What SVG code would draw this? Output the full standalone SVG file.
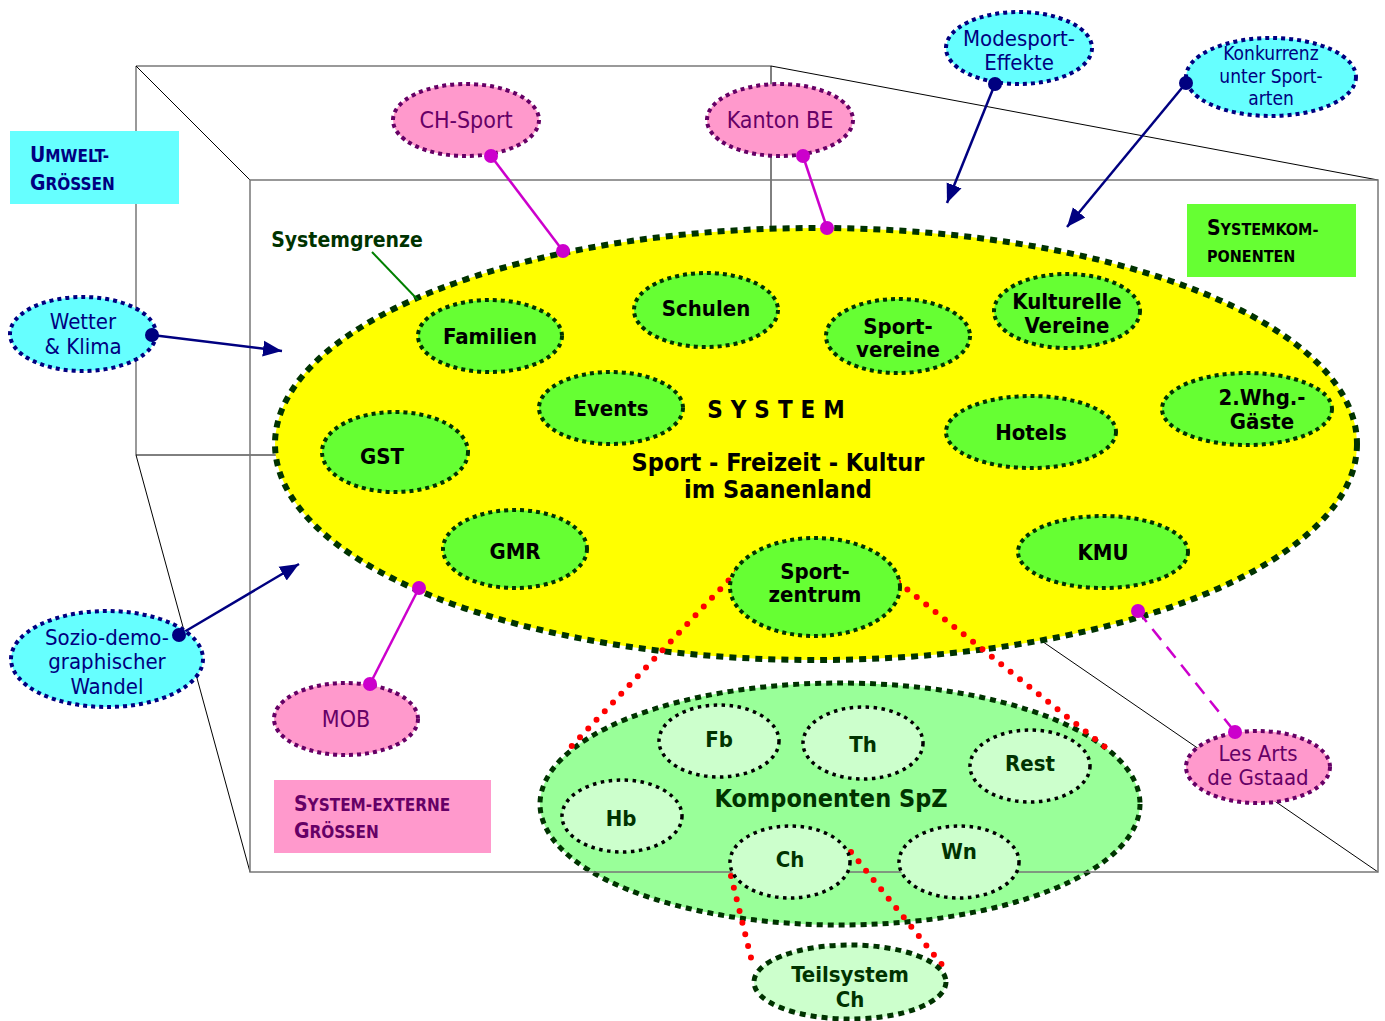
<svg xmlns="http://www.w3.org/2000/svg" width="1385" height="1021" viewBox="0 0 1385 1021">
<defs>
<style>
text{font-family:"DejaVu Sans Condensed","DejaVu Sans",sans-serif;font-stretch:condensed;text-anchor:middle}
.b{font-weight:bold}
.frame{fill:none;stroke:#777;stroke-width:1.5}
.thin{fill:none;stroke:#000;stroke-width:1}
.sys{fill:#ffff00;stroke:#003300;stroke-width:6;stroke-dasharray:7 6}
.comp{fill:#66ff33;stroke:#003300;stroke-width:4;stroke-dasharray:4 4}
.spz{fill:#99ff99;stroke:#003300;stroke-width:5;stroke-dasharray:6 5}
.sub{fill:#ccffcc;stroke:#000;stroke-width:3.5;stroke-dasharray:3.5 4.5}
.teil{fill:#ccffcc;stroke:#003300;stroke-width:5;stroke-dasharray:6 5}
.env{fill:#66ffff;stroke:#000080;stroke-width:4;stroke-dasharray:4 4}
.ext{fill:#ff99cc;stroke:#660066;stroke-width:4;stroke-dasharray:4 4}
.tenv{fill:#000080;font-size:22px}
.text{fill:#660066;font-size:23px}
.tcomp{fill:#000;font-size:22px;font-weight:bold}
.tsub{fill:#003300;font-size:22px;font-weight:bold}
.arrow{stroke:#000080;stroke-width:2.5;fill:none;marker-end:url(#ah)}
.mag{stroke:#cc00cc;stroke-width:2.5;fill:none}
.red{stroke:#ff0000;stroke-width:6;stroke-linecap:round;stroke-dasharray:0 12;fill:none}
</style>
<marker id="ah" markerUnits="userSpaceOnUse" markerWidth="20" markerHeight="20" viewBox="0 0 20 20" refX="19" refY="10" orient="auto">
<path d="M0,2 L19,10 L0,18 Z" fill="#000080"/>
</marker>
</defs>

<g id="box-back">
<line class="frame" x1="136" y1="66" x2="771" y2="66"/>
<line class="frame" x1="136" y1="66" x2="136" y2="455"/>
<line class="thin" x1="136" y1="455" x2="771" y2="455"/>
<line class="thin" x1="771" y1="66" x2="771" y2="455"/>
<line class="thin" x1="136" y1="66" x2="250" y2="180"/>
<line class="thin" x1="771" y1="66" x2="1378" y2="180"/>
<line class="thin" x1="136" y1="455" x2="250" y2="872"/>
<line class="thin" x1="771" y1="455" x2="1378" y2="872"/>
</g>

<g id="system">
<ellipse class="sys" cx="816" cy="444" rx="541" ry="216"/>
<text class="b" x="780" y="418" font-size="24" letter-spacing="8">SYSTEM</text>
<text class="b" x="778" y="471" font-size="25">Sport - Freizeit - Kultur</text>
<text class="b" x="778" y="498" font-size="25">im Saanenland</text>
</g>

<g id="komponenten-spz">
<ellipse class="spz" cx="840" cy="804" rx="300" ry="121"/>
<text class="tsub" x="831" y="807" style="font-size:25px">Komponenten SpZ</text>
</g>

<g id="box-front">
<rect class="frame" x="250" y="180" width="1128" height="692"/>
</g>

<g id="connectors">
<line class="red" x1="745" y1="563" x2="568" y2="750"/>
<line class="red" x1="898" y1="582" x2="1105" y2="747"/>
<line class="red" x1="731" y1="876" x2="753" y2="966"/>
<line class="red" x1="851" y1="852" x2="943" y2="966"/>
<line class="mag" x1="491" y1="156" x2="563" y2="251"/>
<line class="mag" x1="803" y1="156" x2="827" y2="228"/>
<line class="mag" x1="370" y1="684" x2="419" y2="588"/>
<line class="mag" x1="1138" y1="611" x2="1235" y2="732" stroke-width="4" stroke-dasharray="14 9"/>
<line stroke="#008000" stroke-width="2" x1="372" y1="252" x2="418" y2="300"/>
<line class="arrow" x1="152" y1="335" x2="282" y2="351"/>
<line class="arrow" x1="995" y1="84" x2="947" y2="203"/>
<line class="arrow" x1="1186" y1="83" x2="1067" y2="227"/>
<line class="arrow" x1="179" y1="635" x2="299" y2="564"/>
</g>

<g id="familien"><ellipse class="comp" cx="490" cy="336" rx="72" ry="36"/><text class="tcomp" x="490" y="344">Familien</text></g>
<g id="schulen"><ellipse class="comp" cx="706" cy="310" rx="72" ry="37"/><text class="tcomp" x="706" y="316">Schulen</text></g>
<g id="sportvereine"><ellipse class="comp" cx="898" cy="336" rx="72" ry="37"/><text class="tcomp" x="898" y="334">Sport-</text><text class="tcomp" x="898" y="357">vereine</text></g>
<g id="kulturelle-vereine"><ellipse class="comp" cx="1067" cy="311" rx="73" ry="37"/><text class="tcomp" x="1067" y="309">Kulturelle</text><text class="tcomp" x="1067" y="333">Vereine</text></g>
<g id="events"><ellipse class="comp" cx="611" cy="408" rx="72" ry="36"/><text class="tcomp" x="611" y="416">Events</text></g>
<g id="gst"><ellipse class="comp" cx="395" cy="452" rx="73" ry="40"/><text class="tcomp" x="382" y="464">GST</text></g>
<g id="hotels"><ellipse class="comp" cx="1031" cy="432" rx="85" ry="36"/><text class="tcomp" x="1031" y="440">Hotels</text></g>
<g id="zweitwohnung"><ellipse class="comp" cx="1247" cy="409" rx="85" ry="36"/><text class="tcomp" x="1262" y="405">2.Whg.-</text><text class="tcomp" x="1262" y="429">Gäste</text></g>
<g id="gmr"><ellipse class="comp" cx="515" cy="549" rx="72" ry="39"/><text class="tcomp" x="515" y="559">GMR</text></g>
<g id="sportzentrum"><ellipse class="comp" cx="815" cy="587" rx="85" ry="49"/><text class="tcomp" x="815" y="579">Sport-</text><text class="tcomp" x="815" y="602">zentrum</text></g>
<g id="kmu"><ellipse class="comp" cx="1103" cy="552" rx="85" ry="36"/><text class="tcomp" x="1103" y="560">KMU</text></g>

<g id="fb"><ellipse class="sub" cx="719" cy="741" rx="60" ry="36"/><text class="tsub" x="719" y="747">Fb</text></g>
<g id="th"><ellipse class="sub" cx="863" cy="743" rx="60" ry="36"/><text class="tsub" x="863" y="752">Th</text></g>
<g id="rest"><ellipse class="sub" cx="1030" cy="766" rx="60" ry="36"/><text class="tsub" x="1030" y="771">Rest</text></g>
<g id="hb"><ellipse class="sub" cx="622" cy="816" rx="60" ry="36"/><text class="tsub" x="621" y="826">Hb</text></g>
<g id="ch"><ellipse class="sub" cx="790" cy="862" rx="60" ry="36"/><text class="tsub" x="790" y="867">Ch</text></g>
<g id="wn"><ellipse class="sub" cx="959" cy="862" rx="60" ry="36"/><text class="tsub" x="959" y="859">Wn</text></g>
<g id="teilsystem-ch"><ellipse class="teil" cx="850" cy="982" rx="96" ry="37"/><text class="tsub" x="850" y="982">Teilsystem</text><text class="tsub" x="850" y="1007">Ch</text></g>

<g id="modesport"><ellipse class="env" cx="1019" cy="48" rx="73" ry="36"/><text class="tenv" x="1019" y="46">Modesport-</text><text class="tenv" x="1019" y="70">Effekte</text></g>
<g id="konkurrenz"><ellipse class="env" cx="1271" cy="77" rx="85" ry="39"/><text class="tenv" style="font-size:19px" x="1271" y="60"><tspan x="1271" y="60">Konkurrenz</tspan><tspan x="1271" y="82.5">unter Sport-</tspan><tspan x="1271" y="105">arten</tspan></text></g>
<g id="wetter"><ellipse class="env" cx="83" cy="334" rx="73" ry="37"/><text class="tenv" x="83" y="329">Wetter</text><text class="tenv" x="83" y="354">&amp; Klima</text></g>
<g id="sozio"><ellipse class="env" cx="107" cy="659" rx="96" ry="48"/><text class="tenv" x="107" y="645">Sozio-demo-</text><text class="tenv" x="107" y="669">graphischer</text><text class="tenv" x="107" y="694">Wandel</text></g>

<g id="ch-sport"><ellipse class="ext" cx="466" cy="120" rx="73" ry="36"/><text class="text" x="466" y="128">CH-Sport</text></g>
<g id="kanton-be"><ellipse class="ext" cx="780" cy="120" rx="73" ry="36"/><text class="text" x="780" y="128">Kanton BE</text></g>
<g id="mob"><ellipse class="ext" cx="346" cy="719" rx="72" ry="36"/><text class="text" x="346" y="727">MOB</text></g>
<g id="les-arts"><ellipse class="ext" cx="1258" cy="767" rx="72" ry="36"/><text class="text" x="1258" y="761" style="font-size:22px">Les Arts</text><text class="text" x="1258" y="785" style="font-size:22px">de Gstaad</text></g>

<g id="connector-ends">
<circle cx="491" cy="156" r="7" fill="#cc00cc"/><circle cx="563" cy="251" r="7" fill="#cc00cc"/>
<circle cx="803" cy="156" r="7" fill="#cc00cc"/><circle cx="827" cy="228" r="7" fill="#cc00cc"/>
<circle cx="370" cy="684" r="7" fill="#cc00cc"/><circle cx="419" cy="588" r="7" fill="#cc00cc"/>
<circle cx="1138" cy="611" r="7" fill="#cc00cc"/><circle cx="1235" cy="732" r="7" fill="#cc00cc"/>
<circle cx="152" cy="335" r="7" fill="#000080"/>
<circle cx="995" cy="84" r="7" fill="#000080"/>
<circle cx="1186" cy="83" r="7" fill="#000080"/>
<circle cx="179" cy="635" r="7" fill="#000080"/>
</g>

<g id="label-systemgrenze"><text x="347" y="247" font-size="21" font-weight="bold" fill="#003300">Systemgrenze</text></g>

<g id="legend-umwelt">
<rect x="10" y="131" width="169" height="73" fill="#66ffff"/>
<text x="30" y="162" fill="#000080" font-weight="bold" style="text-anchor:start"><tspan font-size="21">U</tspan><tspan font-size="17">MWELT-</tspan></text>
<text x="30" y="190" fill="#000080" font-weight="bold" style="text-anchor:start"><tspan font-size="21">G</tspan><tspan font-size="17">RÖSSEN</tspan></text>
</g>
<g id="legend-systemkomponenten">
<rect x="1187" y="204" width="169" height="73" fill="#66ff33"/>
<text x="1207" y="235" fill="#000" font-weight="bold" style="text-anchor:start"><tspan font-size="21">S</tspan><tspan font-size="16">YSTEMKOM-</tspan></text>
<text x="1207" y="262" fill="#000" font-weight="bold" style="text-anchor:start"><tspan font-size="16">PONENTEN</tspan></text>
</g>
<g id="legend-extern">
<rect x="274" y="780" width="217" height="73" fill="#ff99cc"/>
<text x="294" y="811" fill="#660066" font-weight="bold" style="text-anchor:start"><tspan font-size="21">S</tspan><tspan font-size="17">YSTEM-EXTERNE</tspan></text>
<text x="294" y="838" fill="#660066" font-weight="bold" style="text-anchor:start"><tspan font-size="21">G</tspan><tspan font-size="17">RÖSSEN</tspan></text>
</g>
</svg>
